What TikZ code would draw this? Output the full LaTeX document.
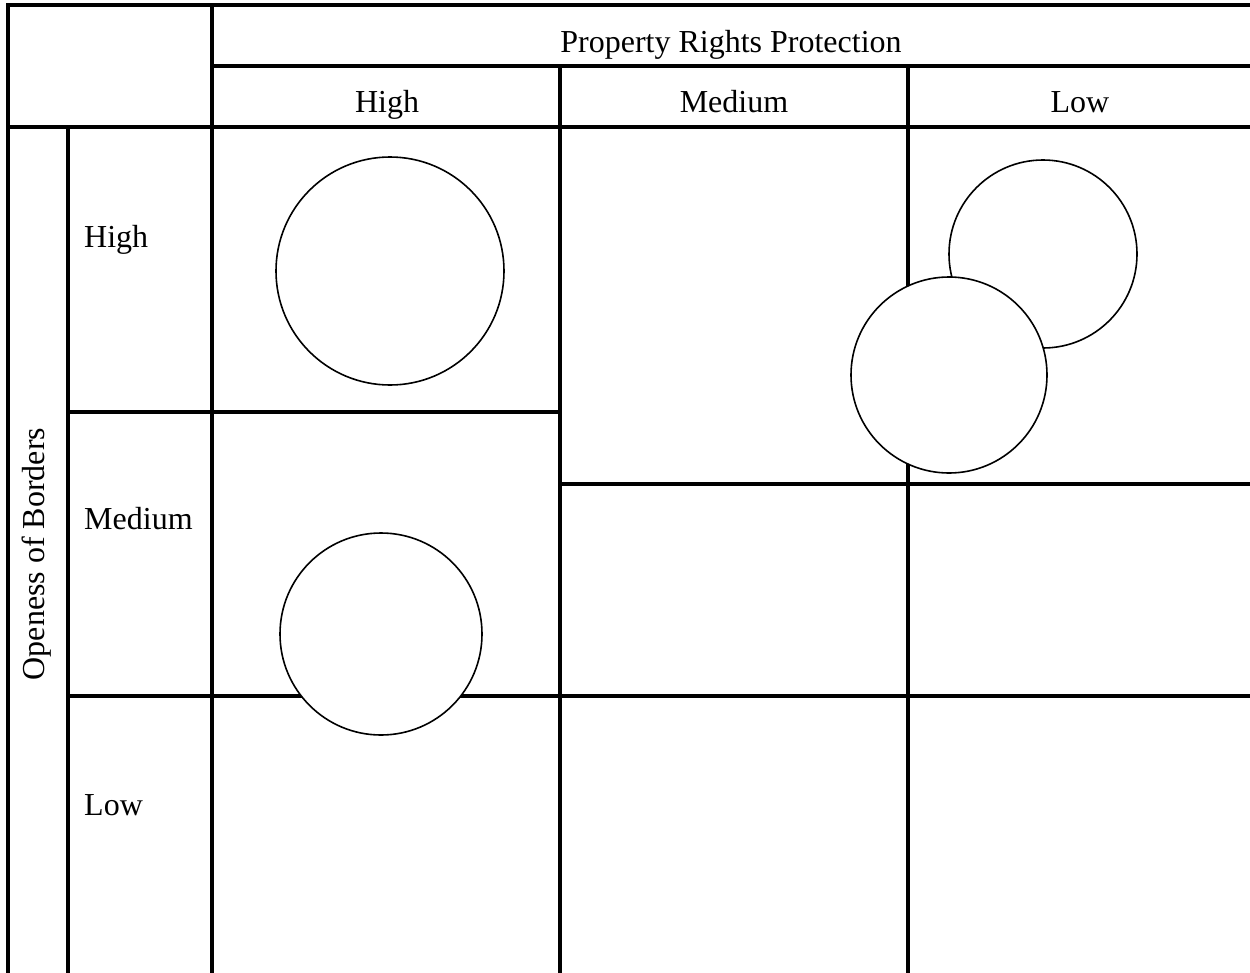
\documentclass[tikz,border=0pt]{standalone}
\usepackage{fontspec}
\setmainfont{Liberation Serif}
\begin{document}
\begin{tikzpicture}[x=1pt,y=-1pt,
  grid/.style={line width=3.2pt, line cap=rect},
  circ/.style={circle, draw, fill=white, line width=1.6pt, inner sep=0pt, outer sep=0pt},
  lbl/.style={inner sep=0pt, anchor=base, font=\fontsize{32}{38}\selectfont},
  rowlbl/.style={lbl, anchor=base west}]
\useasboundingbox (0,0) rectangle (1250,972);
% grid
\draw[grid] (8,5) -- (1250,5);
\draw[grid] (8,5) -- (8,972);
\draw[grid] (212,5) -- (212,972);
\draw[grid] (212,66) -- (1250,66);
\draw[grid] (8,127) -- (1250,127);
\draw[grid] (68,127) -- (68,972);
\draw[grid] (560,66) -- (560,972);
\draw[grid] (908,66) -- (908,972);
\draw[grid] (68,412) -- (560,412);
\draw[grid] (560,484) -- (1250,484);
\draw[grid] (68,696) -- (1250,696);
% texts
\node[lbl] (prp) at (731,52) {Property Rights Protection};
\node[lbl] (ch) at (387,112) {High};
\node[lbl] (cm) at (734,112) {Medium};
\node[lbl] (cl) at (1080,112) {Low};
\node[rowlbl] (rh) at (84,247) {High};
\node[rowlbl] (rm) at (84,529) {Medium};
\node[rowlbl] (rl) at (84,815) {Low};
\node[lbl, rotate=90, anchor=base] (ob) at (44,554) {Openess of Borders};
% circles
\node[circ, minimum size=228pt] (c1) at (390,271) {};
\node[circ, minimum size=202pt] (c2) at (381,634) {};
\node[circ, minimum size=188pt] (c3) at (1043,254) {};
\node[circ, minimum size=196pt] (c4) at (949,375) {};
\end{tikzpicture}
\end{document}
